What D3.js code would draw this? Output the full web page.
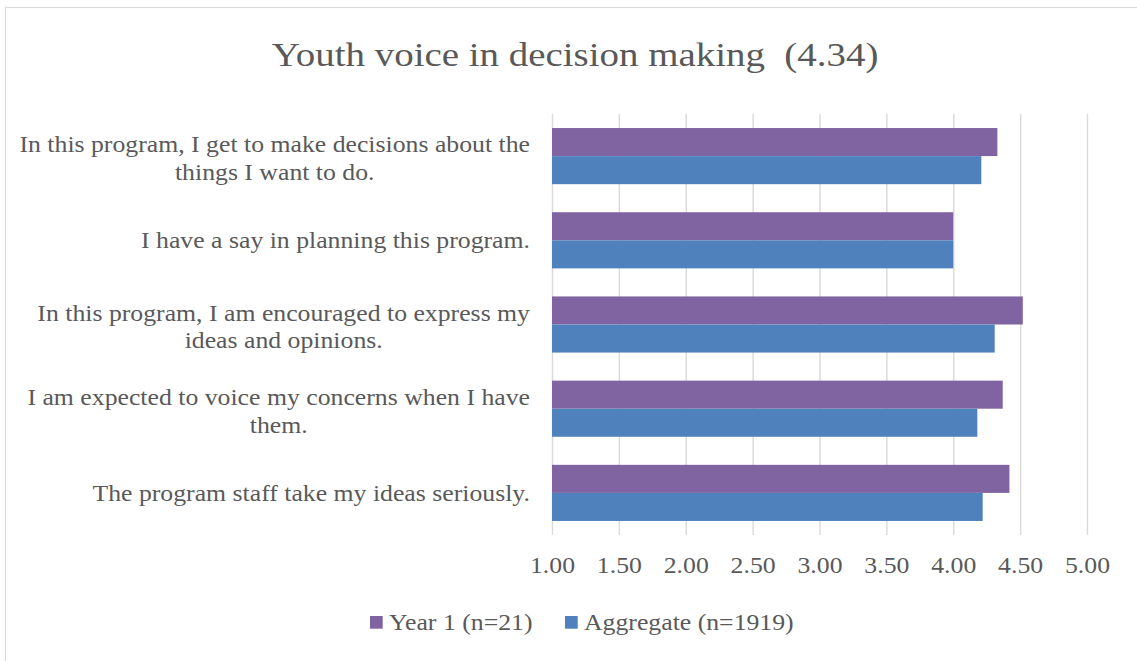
<!DOCTYPE html>
<html>
<head>
<meta charset="utf-8">
<script src="https://cdn.jsdelivr.net/npm/d3@7"></script>
<style>
  html, body { margin: 0; padding: 0; background: #fff; }
  svg { display: block; }
  text { font-family: "Liberation Serif", "Times New Roman", serif; fill: #595959; white-space: pre; }
</style>
</head>
<body>
<svg id="chart" width="1137" height="661"></svg>
<script>
// Survey items (top to bottom), each may wrap onto two lines
const categories = [
  ["In this program, I get to make decisions about the", "things I want to do."],
  ["I have a say in planning this program."],
  ["In this program, I am encouraged to express my", "ideas and opinions."],
  ["I am expected to voice my concerns when I have", "them."],
  ["The program staff take my ideas seriously."]
];
const seriesNames = ["Year 1 (n=21)", "Aggregate (n=1919)"];
const year1Values = [4.33, 4.00, 4.52, 4.37, 4.42];
const aggregateValues = [4.21, 4.00, 4.31, 4.18, 4.22];
const tickValues = [1.00, 1.50, 2.00, 2.50, 3.00, 3.50, 4.00, 4.50, 5.00];
const titleText = "Youth voice in decision making  (4.34)";

const colors = ["#8064A2", "#4F81BD"];
// horizontal widening applied to the serif text so it sets as broad as Cambria
const wide = 1.12;

const svg = d3.select("#chart");
const W = 1137, H = 661;
const plot = { left: 552, right: 1087, top: 114, bottom: 535 };

// Outer chart frame
svg.append("rect")
  .attr("x", 5.5).attr("y", 7.5)
  .attr("width", W + 10).attr("height", H + 10)
  .attr("fill", "#fff").attr("stroke", "#d9d9d9").attr("stroke-width", 1.2);

// Title
svg.append("text")
  .attr("transform", `translate(575,66) scale(1.145,1)`)
  .attr("text-anchor", "middle")
  .attr("xml:space", "preserve")
  .style("font-size", "34px")
  .text(titleText);

const x = d3.scaleLinear().domain([1, 5]).range([plot.left, plot.right]);
const y = d3.scaleBand()
  .domain(d3.range(categories.length))
  .range([plot.top, plot.bottom])
  .paddingInner(1 / 3)
  .paddingOuter(1 / 6);
const ySeries = d3.scaleBand()
  .domain(d3.range(seriesNames.length))
  .range([0, y.bandwidth()]);

// Vertical gridlines
const grid = svg.append("g")
  .attr("transform", `translate(0,${plot.top})`)
  .call(d3.axisBottom(x).tickValues(tickValues).tickSize(plot.bottom - plot.top).tickFormat(""));
grid.select(".domain").remove();
grid.selectAll(".tick line").attr("stroke", "#d9d9d9").attr("stroke-width", 1.4);

// Tick labels under the plot
const axis = svg.append("g")
  .attr("transform", `translate(0,${plot.bottom})`)
  .call(d3.axisBottom(x).tickValues(tickValues).tickSize(0).tickPadding(0).tickFormat(d3.format(".2f")));
axis.select(".domain").remove();
axis.selectAll(".tick text")
  .attr("y", 0).attr("dy", null)
  .attr("transform", `translate(0,38) scale(${wide},1)`)
  .attr("fill", "#595959")
  .style("font-size", "23px")
  .style("font-family", "'Liberation Serif', serif");

// Bars
const rows = categories.map((c, i) => ({ i, values: [year1Values[i], aggregateValues[i]] }));
const groups = svg.append("g").selectAll("g")
  .data(rows).join("g")
  .attr("transform", d => `translate(0,${y(d.i)})`);
groups.selectAll("rect")
  .data(d => d.values.map((v, s) => ({ v, s })))
  .join("rect")
  .attr("x", x(1))
  .attr("y", d => ySeries(d.s))
  .attr("width", d => x(d.v) - x(1))
  .attr("height", ySeries.bandwidth())
  .attr("fill", d => colors[d.s]);

// Category labels, right-aligned against the plot
const labelRight = 530;
const labels = svg.append("g").selectAll("text")
  .data(categories).join("text")
  .attr("text-anchor", "end")
  .style("font-size", "23px")
  .attr("transform", (d, i) =>
    `translate(${labelRight},${y(i) + y.bandwidth() / 2 + (d.length > 1 ? -4 : 8)}) scale(${wide},1)`);
labels.each(function (d) {
  const t = d3.select(this);
  d.forEach((line, k) => {
    t.append("tspan")
      .attr("x", 0)
      .attr("dy", k === 0 ? 0 : 28)
      .text(line);
  });
});
// center the wrapped second line under the first
labels.each(function (d) {
  if (d.length < 2) return;
  const spans = d3.select(this).selectAll("tspan").nodes();
  const w0 = spans[0].getComputedTextLength();
  spans[1].setAttribute("text-anchor", "middle");
  spans[1].setAttribute("x", -w0 / 2);
});

// Legend
const legendX = [370, 565];
const legend = svg.append("g").selectAll("g")
  .data(seriesNames).join("g")
  .attr("transform", (d, i) => `translate(${legendX[i]},616)`);
legend.append("rect")
  .attr("width", 12.7).attr("height", 12.7)
  .attr("fill", (d, i) => colors[i]);
legend.append("text")
  .attr("transform", `translate(19,14) scale(${wide},1)`)
  .style("font-size", "23px")
  .text(d => d);
</script>
</body>
</html>
